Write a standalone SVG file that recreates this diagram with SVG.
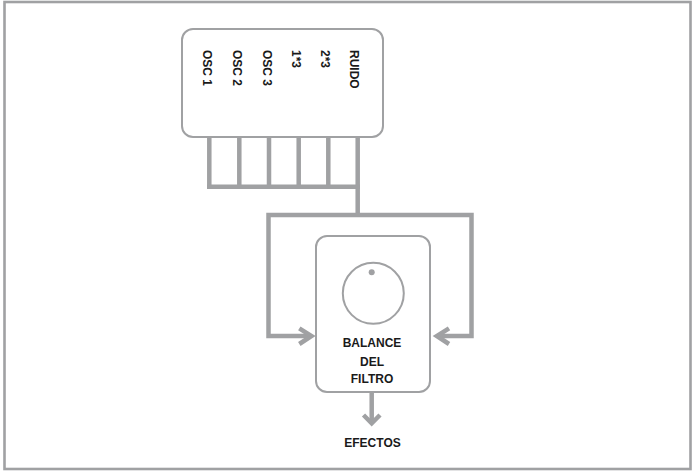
<svg xmlns="http://www.w3.org/2000/svg" width="694" height="472" viewBox="0 0 694 472">
<style>
.frame{fill:none;stroke:#a0a1a3;stroke-width:2.6}
.box{fill:#fff;stroke:#a0a1a3;stroke-width:2}
.wire{fill:none;stroke:#a0a1a3;stroke-width:4.5;stroke-linejoin:miter}
.lbl{font-family:"Liberation Sans",Arial,sans-serif;font-weight:bold;font-size:12px;fill:#1a1a1a}
</style>
<rect width="694" height="472" fill="#fff"/>
<rect class="frame" x="4.5" y="2" width="686" height="467"/>
<g id="connectors">
<path class="wire" d="M209.3 137V186.7M239.3 137V186.7M269 137V186.7M298.7 137V186.7M328.3 137V186.7M357.7 137V215"/>
<path class="wire" d="M207 186.7H360"/>
<path class="wire" d="M311 336H268.5V215H471.5V336H437"/>
<path class="wire" d="M299.3 328.3L311.5 336L299.3 344"/>
<path class="wire" d="M449 328.3L436.8 336L449 344"/>
<path class="wire" d="M371.7 392V423"/>
<path class="wire" d="M363.5 415L371.7 423.3L380 415"/>
</g>
<g id="mezclador">
<rect class="box" x="182" y="29" width="201" height="108" rx="11"/>
<text class="lbl" transform="translate(203,50) rotate(90)">OSC 1</text>
<text class="lbl" transform="translate(233,50) rotate(90)">OSC 2</text>
<text class="lbl" transform="translate(262.5,50) rotate(90)">OSC 3</text>
<text class="lbl" transform="translate(291.5,50) rotate(90)">1*3</text>
<text class="lbl" transform="translate(320.5,50) rotate(90)">2*3</text>
<text class="lbl" transform="translate(350,50) rotate(90)">RUIDO</text>
</g>
<g id="balance">
<rect class="box" x="316" y="236" width="114" height="156" rx="11"/>
<circle cx="373.3" cy="293.3" r="30.5" fill="none" stroke="#a0a1a3" stroke-width="2"/>
<circle cx="371.7" cy="272.3" r="3" fill="#a0a1a3"/>
<text class="lbl" x="372" y="347" text-anchor="middle">BALANCE</text>
<text class="lbl" x="372" y="366" text-anchor="middle">DEL</text>
<text class="lbl" x="372" y="383" text-anchor="middle">FILTRO</text>
</g>
<g id="efectos">
<text class="lbl" x="372.5" y="447" text-anchor="middle">EFECTOS</text>
</g>
</svg>
